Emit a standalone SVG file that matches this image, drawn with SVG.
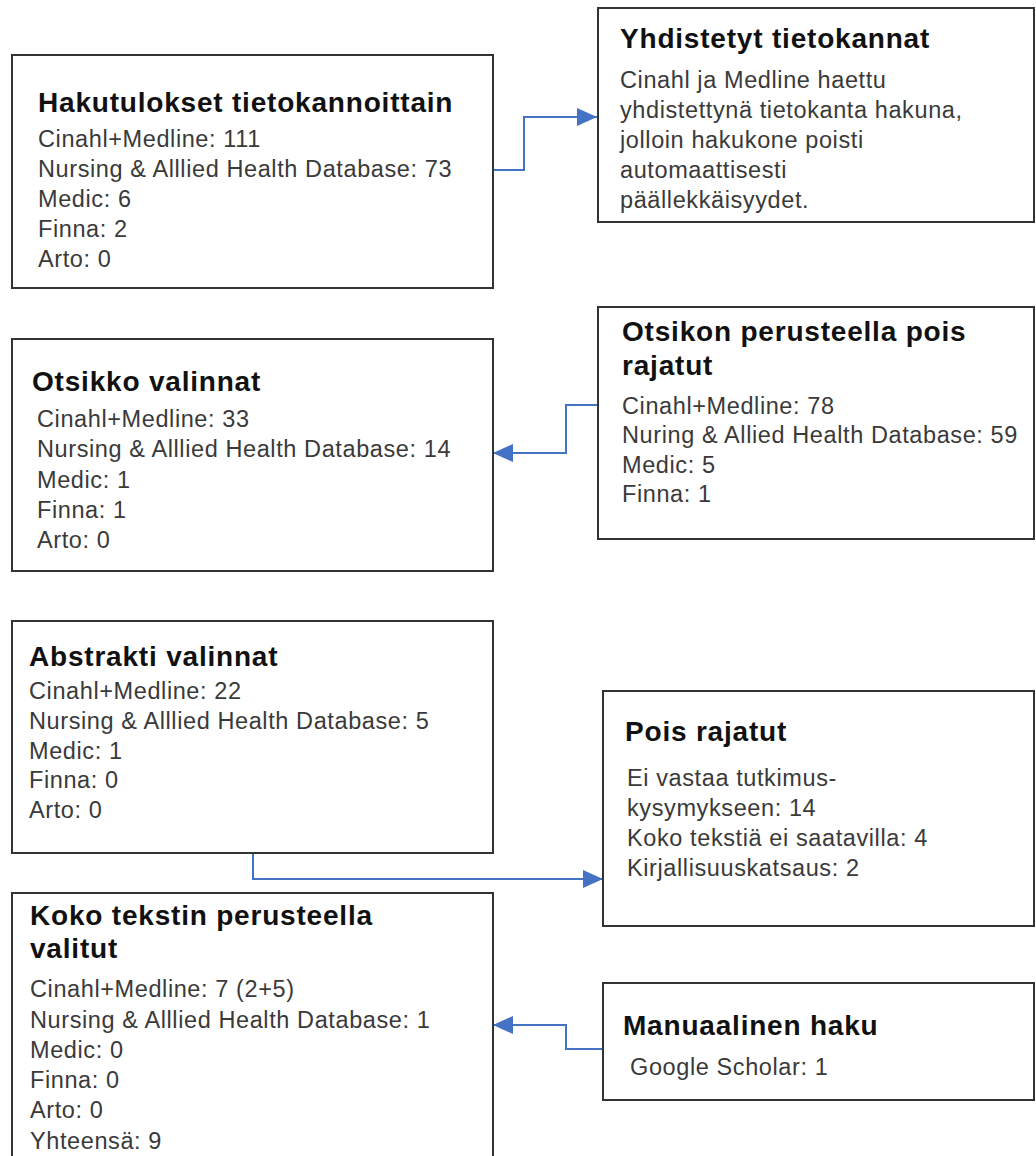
<svg xmlns="http://www.w3.org/2000/svg" width="1036" height="1156" viewBox="0 0 1036 1156">
<defs>
<style>
.box{fill:#fff;stroke:#333;stroke-width:2}
.t{font-family:"Liberation Sans",Arial,sans-serif;font-weight:bold;font-size:28px;fill:#111;letter-spacing:0.8px}
.b{font-family:"Liberation Sans",Arial,sans-serif;font-size:23.5px;fill:#3a3a3a;letter-spacing:0.6px}
.c{fill:none;stroke:#4472C4;stroke-width:2}
</style>
<marker id="arr" markerUnits="userSpaceOnUse" markerWidth="20" markerHeight="18" refX="20" refY="9" orient="auto">
<path d="M0,0 L20,9 L0,18 z" fill="#4472C4"/>
</marker>
</defs>
<rect width="1036" height="1156" fill="#fff"/>
<g id="connectors">
<path class="c" d="M493,170 H524 V117 H597" marker-end="url(#arr)"/>
<path class="c" d="M598,405 H566 V453 H493" marker-end="url(#arr)"/>
<path class="c" d="M253,853 V879 H603" marker-end="url(#arr)"/>
<path class="c" d="M603,1049 H566 V1025 H493" marker-end="url(#arr)"/>
</g>
<g id="hakutulokset">
<rect class="box" x="12" y="55" width="481" height="233"/>
<text class="t" x="38" y="112">Hakutulokset tietokannoittain</text>
<text class="b" x="38" y="147">Cinahl+Medline: 111</text>
<text class="b" x="38" y="177">Nursing &amp; Alllied Health Database: 73</text>
<text class="b" x="38" y="207">Medic: 6</text>
<text class="b" x="38" y="237">Finna: 2</text>
<text class="b" x="38" y="267">Arto: 0</text>
</g>
<g id="yhdistetyt">
<rect class="box" x="598" y="8" width="436" height="214"/>
<text class="t" x="620" y="48">Yhdistetyt tietokannat</text>
<text class="b" x="620" y="88">Cinahl ja Medline haettu</text>
<text class="b" x="620" y="118">yhdistettynä tietokanta hakuna,</text>
<text class="b" x="620" y="148">jolloin hakukone poisti</text>
<text class="b" x="620" y="178">automaattisesti</text>
<text class="b" x="620" y="208">päällekkäisyydet.</text>
</g>
<g id="otsikko-valinnat">
<rect class="box" x="12" y="339" width="481" height="232"/>
<text class="t" x="32" y="391">Otsikko valinnat</text>
<text class="b" x="37" y="427">Cinahl+Medline: 33</text>
<text class="b" x="37" y="457">Nursing &amp; Alllied Health Database: 14</text>
<text class="b" x="37" y="488">Medic: 1</text>
<text class="b" x="37" y="518">Finna: 1</text>
<text class="b" x="37" y="548">Arto: 0</text>
</g>
<g id="otsikon-perusteella">
<rect class="box" x="598" y="307" width="436" height="232"/>
<text class="t" x="622" y="341">Otsikon perusteella pois</text>
<text class="t" x="622" y="375">rajatut</text>
<text class="b" x="622" y="414">Cinahl+Medline: 78</text>
<text class="b" x="622" y="443">Nuring &amp; Allied Health Database: 59</text>
<text class="b" x="622" y="473">Medic: 5</text>
<text class="b" x="622" y="502">Finna: 1</text>
</g>
<g id="abstrakti">
<rect class="box" x="12" y="621" width="481" height="232"/>
<text class="t" x="29" y="666">Abstrakti valinnat</text>
<text class="b" x="29" y="699">Cinahl+Medline: 22</text>
<text class="b" x="29" y="729">Nursing &amp; Alllied Health Database: 5</text>
<text class="b" x="29" y="759">Medic: 1</text>
<text class="b" x="29" y="788">Finna: 0</text>
<text class="b" x="29" y="818">Arto: 0</text>
</g>
<g id="pois-rajatut">
<rect class="box" x="603" y="691" width="431" height="235"/>
<text class="t" x="625" y="741">Pois rajatut</text>
<text class="b" x="627" y="786">Ei vastaa tutkimus-</text>
<text class="b" x="627" y="816">kysymykseen: 14</text>
<text class="b" x="627" y="846">Koko tekstiä ei saatavilla: 4</text>
<text class="b" x="627" y="876">Kirjallisuuskatsaus: 2</text>
</g>
<g id="koko-teksti">
<rect class="box" x="12" y="893" width="481" height="280"/>
<text class="t" x="30" y="925">Koko tekstin perusteella</text>
<text class="t" x="30" y="958">valitut</text>
<text class="b" x="30" y="997">Cinahl+Medline: 7 (2+5)</text>
<text class="b" x="30" y="1028">Nursing &amp; Alllied Health Database: 1</text>
<text class="b" x="30" y="1058">Medic: 0</text>
<text class="b" x="30" y="1088">Finna: 0</text>
<text class="b" x="30" y="1118">Arto: 0</text>
<text class="b" x="30" y="1149">Yhteensä: 9</text>
</g>
<g id="manuaalinen">
<rect class="box" x="603" y="983" width="431" height="117"/>
<text class="t" x="623" y="1035">Manuaalinen haku</text>
<text class="b" x="630" y="1075">Google Scholar: 1</text>
</g>
</svg>
